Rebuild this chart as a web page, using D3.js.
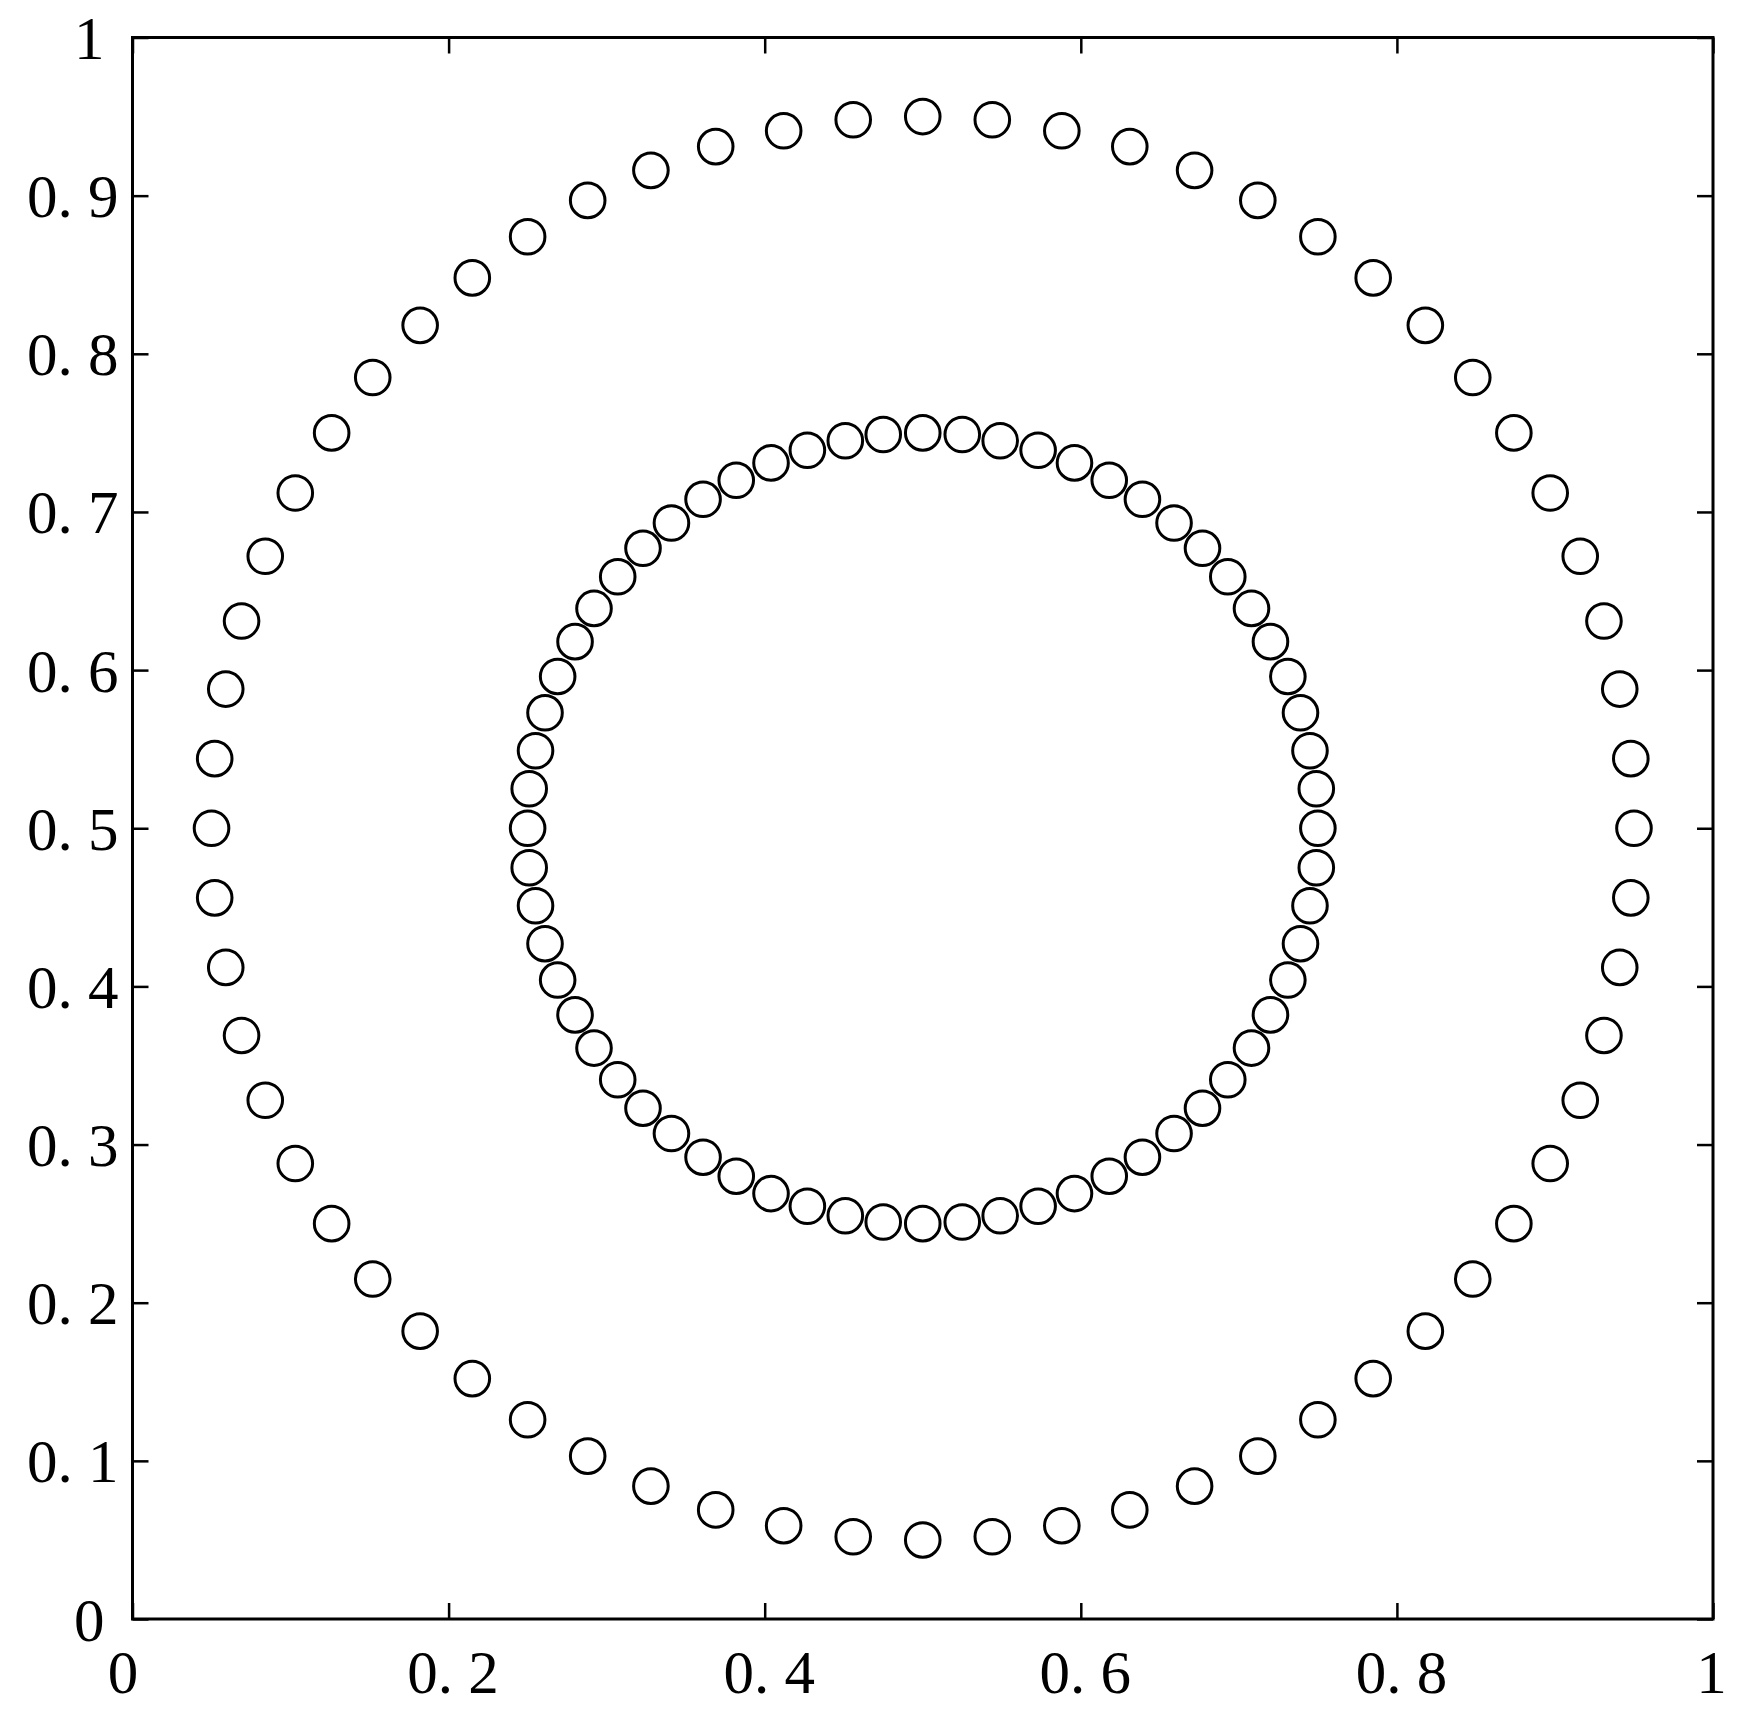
<!DOCTYPE html>
<html><head><meta charset="utf-8">
<script src="https://cdn.jsdelivr.net/npm/d3@7"></script>
<style>html,body{margin:0;padding:0;background:#fff;}</style>
</head><body>
<svg id="chart" width="1737" height="1720"></svg>
<script>
const outerX = [0.950,0.948,0.941,0.931,0.916,0.897,0.874,0.848,0.818,0.785,0.750,0.712,0.672,0.631,0.588,0.544,0.500,
  0.456,0.412,0.369,0.328,0.288,0.250,0.215,0.182,0.152,0.126,0.103,0.084,0.069,0.059,0.052,0.050,
  0.052,0.059,0.069,0.084,0.103,0.126,0.152,0.182,0.215,0.250,0.288,0.328,0.369,0.412,0.456,0.500,
  0.544,0.588,0.631,0.672,0.712,0.750,0.785,0.818,0.848,0.874,0.897,0.916,0.931,0.941,0.948];
const outerY = [0.500,0.544,0.588,0.631,0.672,0.712,0.750,0.785,0.818,0.848,0.874,0.897,0.916,0.931,0.941,0.948,0.950,
  0.948,0.941,0.931,0.916,0.897,0.874,0.848,0.818,0.785,0.750,0.712,0.672,0.631,0.588,0.544,0.500,
  0.456,0.412,0.369,0.328,0.288,0.250,0.215,0.182,0.152,0.126,0.103,0.084,0.069,0.059,0.052,0.050,
  0.052,0.059,0.069,0.084,0.103,0.126,0.152,0.182,0.215,0.250,0.288,0.328,0.369,0.412,0.456];
const innerX = [0.750,0.749,0.745,0.739,0.731,0.720,0.708,0.693,0.677,0.659,0.639,0.618,0.596,0.573,0.549,0.525,0.500,
  0.475,0.451,0.427,0.404,0.382,0.361,0.341,0.323,0.307,0.292,0.280,0.269,0.261,0.255,0.251,0.250,
  0.251,0.255,0.261,0.269,0.280,0.292,0.307,0.323,0.341,0.361,0.382,0.404,0.427,0.451,0.475,0.500,
  0.525,0.549,0.573,0.596,0.618,0.639,0.659,0.677,0.693,0.708,0.720,0.731,0.739,0.745,0.749];
const innerY = [0.500,0.525,0.549,0.573,0.596,0.618,0.639,0.659,0.677,0.693,0.708,0.720,0.731,0.739,0.745,0.749,0.750,
  0.749,0.745,0.739,0.731,0.720,0.708,0.693,0.677,0.659,0.639,0.618,0.596,0.573,0.549,0.525,0.500,
  0.475,0.451,0.427,0.404,0.382,0.361,0.341,0.323,0.307,0.292,0.280,0.269,0.261,0.255,0.251,0.250,
  0.251,0.255,0.261,0.269,0.280,0.292,0.307,0.323,0.341,0.361,0.382,0.404,0.427,0.451,0.475];
const xTicks = [0,0.2,0.4,0.6,0.8,1];
const xTickLabels = ["0","0. 2","0. 4","0. 6","0. 8","1"];
const yTicks = [0,0.1,0.2,0.3,0.4,0.5,0.6,0.7,0.8,0.9,1];
const yTickLabels = ["0","0. 1","0. 2","0. 3","0. 4","0. 5","0. 6","0. 7","0. 8","0. 9","1"];

const L = 132.5, R = 1713, T = 37.5, B = 1619;
const x = d3.scaleLinear().domain([0,1]).range([L,R]);
const y = d3.scaleLinear().domain([0,1]).range([B,T]);
const svg = d3.select("#chart");
const font = "'Liberation Serif', 'Times New Roman', serif";
const tick = 16;

function styleAxis(g){
  g.select(".domain").remove();
  g.selectAll(".tick line").attr("stroke","#000").attr("stroke-width",2.5);
  g.selectAll("text").attr("font-family",font).attr("font-size",61).attr("fill","#000");
}
// bottom
svg.append("g").attr("transform",`translate(0,${B})`)
  .call(d3.axisBottom(x).tickValues(xTicks).tickSize(-tick).tickFormat((d,i)=>xTickLabels[i]))
  .call(styleAxis)
  .call(g=>g.selectAll("text").attr("dy",null).attr("y",74)
     .attr("dx",(d,i)=> i===0 ? -10 : (i===xTicks.length-1 ? -2 : 4)));
// top
svg.append("g").attr("transform",`translate(0,${T})`)
  .call(d3.axisTop(x).tickValues(xTicks).tickSize(-tick).tickFormat(""))
  .call(styleAxis);
// left
svg.append("g").attr("transform",`translate(${L},0)`)
  .call(d3.axisLeft(y).tickValues(yTicks).tickSize(-tick).tickFormat((d,i)=>yTickLabels[i]))
  .call(styleAxis)
  .call(g=>g.selectAll("text").attr("dy",null).attr("y",21).attr("text-anchor","end")
     .attr("x",(d,i)=> (i===0 || i===yTicks.length-1) ? -28 : -14));
// right
svg.append("g").attr("transform",`translate(${R},0)`)
  .call(d3.axisRight(y).tickValues(yTicks).tickSize(-tick).tickFormat(""))
  .call(styleAxis);

// frame
svg.append("rect").attr("x",L).attr("y",T).attr("width",R-L).attr("height",B-T)
  .attr("fill","none").attr("stroke","#000").attr("stroke-width",3);

// markers
const pts = outerX.map((v,i)=>({x:v,y:outerY[i]})).concat(innerX.map((v,i)=>({x:v,y:innerY[i]})));
svg.append("g").selectAll("circle").data(pts).join("circle")
  .attr("cx",d=>x(d.x)).attr("cy",d=>y(d.y)).attr("r",17.3)
  .attr("fill","none").attr("stroke","#000").attr("stroke-width",3);
</script>
</body></html>
